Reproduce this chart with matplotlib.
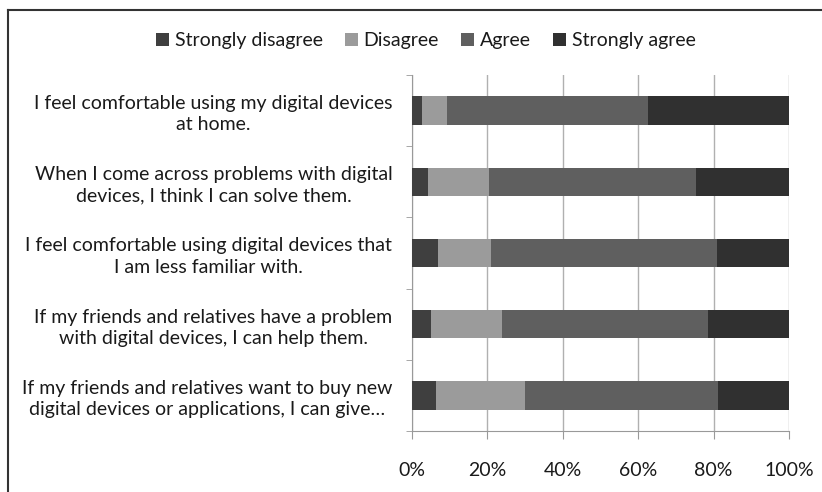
import numpy as np
import matplotlib.pyplot as plt
from matplotlib.lines import Line2D

# 数据
statements = [
    "I feel comfortable using my digital devices\nat home.",
    "When I come across problems with digital\ndevices, I think I can solve them.",
    "I feel comfortable using digital devices that\nI am less familiar with.",
    "If my friends and relatives have a problem\nwith digital devices, I can help them.",
    "If my friends and relatives want to buy new\ndigital devices or applications, I can give\u2026",
]
strongly_disagree = [2.7, 4.3, 6.9, 5.2, 6.4]
disagree = [6.7, 16.1, 14.1, 18.8, 23.5]
agree = [53.3, 54.9, 60.0, 54.4, 51.2]
strongly_agree = [37.3, 24.7, 19.0, 21.6, 18.9]

series_names = ["Strongly disagree", "Disagree", "Agree", "Strongly agree"]
colors = ["#3f3f3f", "#9b9b9b", "#5f5f5f", "#303030"]

plt.rcParams['font.family'] = ['Lato', 'DejaVu Sans']

fig = plt.figure(figsize=(8.22, 4.92), dpi=100)
ax = fig.add_axes([0.5009, 0.124, 0.459, 0.7236])

y = np.arange(len(statements))
left = np.zeros(len(statements))
for name, vals, c in zip(series_names, [strongly_disagree, disagree, agree, strongly_agree], colors):
    ax.barh(y, vals, left=left, height=0.4, color=c, label=name, zorder=3)
    left += np.array(vals)

ax.set_xlim(0, 100)
ax.set_ylim(len(statements) - 0.5, -0.5)
ax.set_xticks(np.arange(0, 101, 20))
ax.set_xticklabels([f"{v}%" for v in range(0, 101, 20)], fontsize=14, color="#1a1a1a")
ax.set_yticks(y)
ax.set_yticklabels(statements, fontsize=14, color="#1a1a1a", multialignment='center', linespacing=1.3)
ax.set_yticks(np.arange(-0.5, len(statements), 1), minor=True)
ax.tick_params(axis='y', which='major', length=0, pad=14)
ax.tick_params(axis='y', which='minor', length=4, color="#999999")
ax.tick_params(axis='x', length=6, color="#999999", pad=16)
ax.xaxis.grid(True, color="#b0b0b0", linewidth=1, zorder=0)

for s in ['top', 'right']:
    ax.spines[s].set_visible(False)
for s in ['left', 'bottom']:
    ax.spines[s].set_color("#999999")

fig.legend(loc='center', bbox_to_anchor=(0.518, 0.918), ncol=4, frameon=False,
           fontsize=14, handlelength=0.65, handleheight=0.65, handletextpad=0.3,
           columnspacing=1.15, labelcolor="#1a1a1a")

# 外框
fig.add_artist(Line2D([8 / 822, 1], [1 - 10 / 492, 1 - 10 / 492], color="#333333", linewidth=1.5))
fig.add_artist(Line2D([8 / 822, 8 / 822], [0, 1 - 10 / 492], color="#333333", linewidth=1.5))

fig.savefig("out.png", dpi=100)
